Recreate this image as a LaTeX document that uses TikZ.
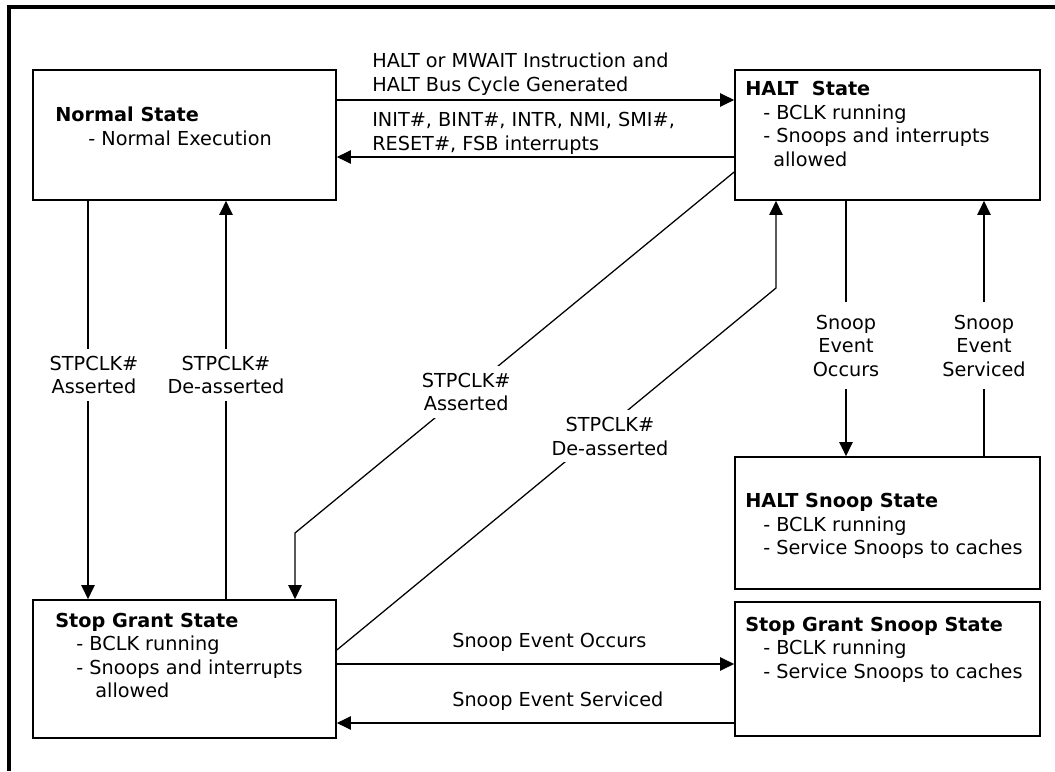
\documentclass[tikz,border=0pt]{standalone}
\usepackage{fontspec}
\setmainfont{DejaVu Sans}
\usetikzlibrary{arrows.meta}

\begin{document}
\begin{tikzpicture}[
  every node/.style={font=\fontsize{13.7}{16.7}\selectfont},
  state/.style={rectangle,draw,line width=1.2pt,inner sep=0pt},
  stxt/.style={anchor=north west,align=left,inner sep=0pt},
  arr/.style={-{Triangle[length=10pt,width=9.5pt]},line width=0.9pt},
  lbl/.style={anchor=south west,align=left,inner sep=0pt},
  cut/.style={fill=white,align=center,inner sep=5pt},
]

% === Page and frame ===
\useasboundingbox (0,0) rectangle (26.375,19.275);
\draw[line width=2.2pt] (0.225,0) -- (0.225,19.1) -- (26.375,19.1);

% === States ===
\node[state,minimum width=7.575cm,minimum height=3.25cm] (normal) at (4.6125,15.9) {};
\node[state,minimum width=7.625cm,minimum height=3.25cm] (halt) at (22.1875,15.9) {};
\node[state,minimum width=7.625cm,minimum height=3.3cm] (hsnoop) at (22.1875,6.2) {};
\node[state,minimum width=7.575cm,minimum height=3.45cm] (stopgrant) at (4.6125,2.55) {};
\node[state,minimum width=7.625cm,minimum height=3.35cm] (sgsnoop) at (22.1875,2.55) {};

% State descriptions
\node[stxt] (normaltxt) at (1.375,16.6)
  {\textbf{Normal State}\\\hspace*{23.5pt}- Normal Execution};
\node[stxt] (halttxt) at (18.625,17.24)
  {\textbf{HALT\ \ State}\\\hspace*{12.8pt}- BCLK running\\
   \hspace*{12.8pt}- Snoops and interrupts\\\hspace*{19.9pt}allowed};
\node[stxt] (stoptxt) at (1.375,3.96)
  {\textbf{Stop Grant State}\\\hspace*{15pt}- BCLK running\\
   \hspace*{15pt}- Snoops and interrupts\\\hspace*{28.5pt}allowed};
\node[stxt] (hsnooptxt) at (18.625,6.94)
  {\textbf{HALT Snoop State}\\\hspace*{12.8pt}- BCLK running\\
   \hspace*{12.8pt}- Service Snoops to caches};
\node[stxt] (sgsnooptxt) at (18.625,3.86)
  {\textbf{Stop Grant Snoop State}\\\hspace*{12.8pt}- BCLK running\\
   \hspace*{12.8pt}- Service Snoops to caches};

% === Normal <-> HALT ===
\draw[arr] ([yshift=0.875cm]normal.east) -- ([yshift=0.875cm]halt.west);
\draw[arr] ([yshift=-0.55cm]halt.west) -- ([yshift=-0.55cm]normal.east);
\node[lbl] (haltlbl) at (9.3,16.89)
  {HALT or MWAIT Instruction and\\HALT Bus Cycle Generated};
\node[lbl] (intlbl) at (9.3,15.41)
  {INIT\#, BINT\#, INTR, NMI, SMI\#,\\RESET\#, FSB interrupts};

% === Normal <-> Stop Grant ===
\draw[arr] ([xshift=-2.4125cm]normal.south) --
  node[cut,pos=0.4375,xshift=0.15cm] (aslbl) {STPCLK\#\\Asserted}
  ([xshift=-2.4125cm]stopgrant.north);
\draw[arr] ([xshift=1.0375cm]stopgrant.north) --
  node[cut,pos=0.5625] (delbl) {STPCLK\#\\De-asserted}
  ([xshift=1.0375cm]normal.south);

% === HALT <-> Stop Grant (bent) ===
\coordinate (asbend) at (7.375,5.95);
\coordinate (debend) at (19.4,12.075);
\draw[arr] ([yshift=-0.925cm]halt.west) --
  node[cut,pos=0.61] (asdlbl) {STPCLK\#\\Asserted}
  (asbend) -- (asbend |- stopgrant.north);
\draw[arr] ([yshift=0.475cm]stopgrant.east) --
  node[cut,pos=0.59,xshift=0.35cm] (dedlbl) {STPCLK\#\\De-asserted}
  (debend) -- (debend |- halt.south);

% === HALT <-> HALT Snoop ===
\draw[arr] ([xshift=-1.0375cm]halt.south) --
  node[cut,inner ysep=9pt,pos=0.568] (occvlbl) {Snoop\\Event\\Occurs}
  ([xshift=-1.0375cm]hsnoop.north);
\draw[arr] ([xshift=2.4125cm]hsnoop.north) --
  node[cut,inner ysep=9pt,pos=0.432] (srvvlbl) {Snoop\\Event\\Serviced}
  ([xshift=2.4125cm]halt.south);

% === Stop Grant <-> Stop Grant Snoop ===
\draw[arr] ([yshift=0.125cm]stopgrant.east) -- ([yshift=0.125cm]sgsnoop.west);
\draw[arr] ([yshift=-1.35cm]sgsnoop.west) -- ([yshift=-1.35cm]stopgrant.east);
\node[lbl] (occlbl) at (11.3,2.99) {Snoop Event Occurs};
\node[lbl] (srvlbl) at (11.3,1.51) {Snoop Event Serviced};

\end{tikzpicture}
\end{document}
